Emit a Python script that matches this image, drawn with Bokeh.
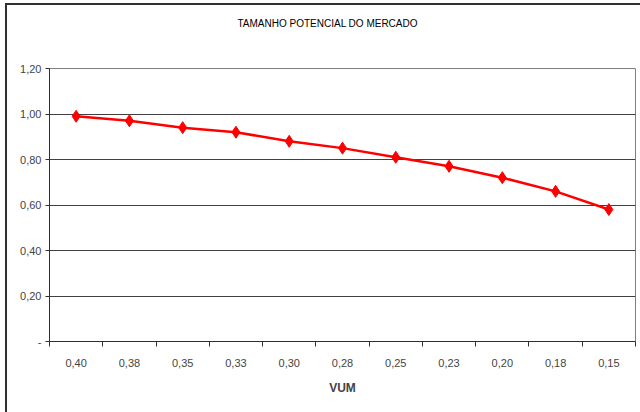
from bokeh.plotting import figure
from bokeh.models import FixedTicker
from bokeh.layouts import column
from bokeh.core.properties import value
from bokeh.embed import file_html
from bokeh.resources import INLINE

# ---- data ----
vum_labels = ["0,40", "0,38", "0,35", "0,33", "0,30", "0,28", "0,25", "0,23", "0,20", "0,18", "0,15"]
mercado = [0.99, 0.97, 0.94, 0.92, 0.88, 0.85, 0.81, 0.77, 0.72, 0.66, 0.58]
y_ticks = [0.0, 0.2, 0.4, 0.6, 0.8, 1.0, 1.2]
y_tick_labels = ["-", "0,20", "0,40", "0,60", "0,80", "1,00", "1,20"]
title_text = "TAMANHO POTENCIAL DO MERCADO"
x_title = "VUM"

FONT = "Liberation Sans"
xs = list(range(len(vum_labels)))

W = 633
TITLE_H = 40

# title strip (its own small svg figure)
t = figure(width=W, height=TITLE_H, output_backend="svg", toolbar_location=None,
           x_range=(0, W), y_range=(0, TITLE_H),
           min_border=0, min_border_left=0, min_border_right=0, min_border_top=0, min_border_bottom=0)
t.axis.visible = False
t.grid.visible = False
t.outline_line_color = None
t.background_fill_color = "white"
t.border_fill_color = "white"
t.text(x=[W / 2 - 16], y=[TITLE_H - 18], text=[title_text], text_align="center", text_baseline="middle",
       text_font=value(FONT), text_font_size="10px", text_color="#000000")

p = figure(width=W, height=407 - TITLE_H, output_backend="svg", toolbar_location=None,
           x_range=(-0.5, len(vum_labels) - 0.5), y_range=(0, 1.2),
           min_border_left=42, min_border_right=5, min_border_top=63 - TITLE_H, min_border_bottom=71)

p.background_fill_color = "white"
p.border_fill_color = "white"
p.outline_line_color = "#808080"
p.outline_line_width = 1

# x axis
p.xaxis.ticker = FixedTicker(ticks=xs, minor_ticks=[i - 0.5 for i in range(len(vum_labels) + 1)])
p.xaxis.major_label_overrides = {i: lab for i, lab in enumerate(vum_labels)}
p.xaxis.major_tick_line_color = None
p.xaxis.major_tick_out = 5
p.xaxis.minor_tick_line_color = "#303030"
p.xaxis.minor_tick_out = 5
p.xaxis.minor_tick_in = 0
p.xaxis.axis_line_color = "#303030"
p.xaxis.major_label_text_font = FONT
p.xaxis.major_label_text_font_size = "11px"
p.xaxis.major_label_standoff = 12
p.xaxis.axis_label = x_title
p.xaxis.axis_label_text_font = FONT
p.xaxis.axis_label_text_font_size = "12px"
p.xaxis.axis_label_text_font_style = "bold"
p.xaxis.axis_label_standoff = 11

# y axis
p.yaxis.ticker = FixedTicker(ticks=y_ticks)
p.yaxis.major_label_overrides = {tk: lab for tk, lab in zip(y_ticks, y_tick_labels)}
p.yaxis.minor_tick_line_color = None
p.yaxis.major_tick_out = 4
p.yaxis.major_tick_in = 0
p.yaxis.major_tick_line_color = "#303030"
p.yaxis.axis_line_color = "#303030"
p.yaxis.major_label_text_font = FONT
p.yaxis.major_label_text_font_size = "11px"
p.yaxis.major_label_standoff = 4

p.xgrid.grid_line_color = None
p.ygrid.grid_line_color = "#404040"
p.ygrid.grid_line_width = 1

p.line(xs, mercado, line_color="#ff0000", line_width=2.5)
p.scatter(xs, mercado, marker="diamond", size=12, fill_color="#ff0000", line_color="#ff0000")

layout = column(t, p, spacing=0,
                styles={"border-left": "2px solid #303030", "border-top": "2px solid #303030",
                        "margin-left": "5px", "margin-top": "3px", "background": "white"})

open("out.html", "w").write(file_html(layout, INLINE))
